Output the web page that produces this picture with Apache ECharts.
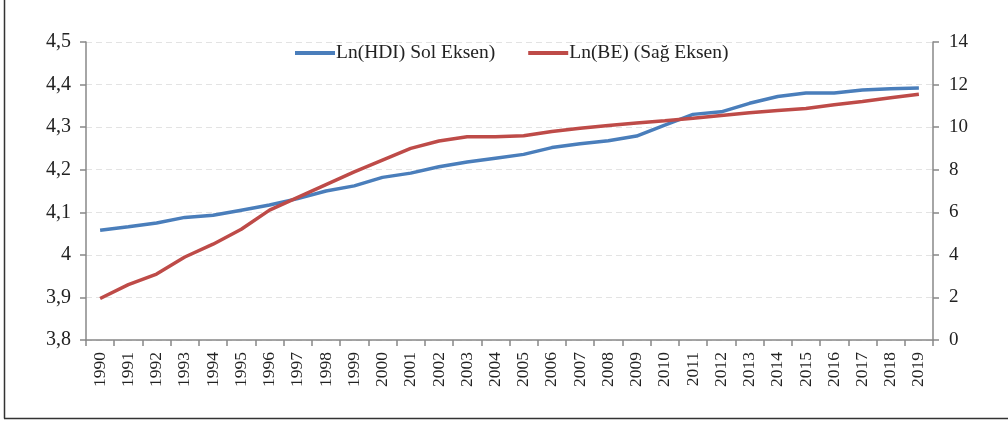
<!DOCTYPE html>
<html>
<head>
<meta charset="utf-8">
<script src="https://cdn.jsdelivr.net/npm/echarts@6/dist/echarts.min.js"></script>
<style>html,body{margin:0;padding:0;background:#fff;}#c{width:1008px;height:422px;}</style>
</head>
<body>
<div id="c"></div>
<script>
const years = ['1990','1991','1992','1993','1994','1995','1996','1997','1998','1999','2000','2001','2002','2003','2004','2005','2006','2007','2008','2009','2010','2011','2012','2013','2014','2015','2016','2017','2018','2019'];
const lnHDI = [4.058,4.066,4.075,4.088,4.093,4.105,4.117,4.132,4.150,4.162,4.182,4.192,4.207,4.218,4.227,4.236,4.252,4.261,4.268,4.279,4.305,4.330,4.336,4.356,4.372,4.380,4.380,4.387,4.390,4.392];
const lnBE = [1.95,2.6,3.1,3.9,4.5,5.2,6.1,6.7,7.3,7.9,8.45,9.0,9.35,9.55,9.55,9.6,9.8,9.95,10.08,10.2,10.3,10.42,10.55,10.68,10.78,10.88,11.05,11.2,11.38,11.55];
const seriesNames = ['Ln(HDI) Sol Eksen)', 'Ln(BE) (Sağ Eksen)'];

const font = '"Liberation Serif", "Times New Roman", serif';
const chart = echarts.init(document.getElementById('c'), null, {renderer:'canvas'});
chart.setOption({
  animation: false,
  backgroundColor: '#fff',
  textStyle: {fontFamily: font},
  graphic: [
    {type:'line', shape:{x1:4.5,y1:0,x2:4.5,y2:418.5}, style:{stroke:'#333',lineWidth:1.5}},
    {type:'line', shape:{x1:4,y1:418.5,x2:1008,y2:418.5}, style:{stroke:'#333',lineWidth:1.5}}
  ],
  legend: {
    top: 38, left: 290,
    itemWidth: 40, itemHeight: 4, itemGap: 33,
    icon: 'rect',
    textStyle: {fontFamily: font, fontSize: 19.5, color: '#222', padding:[0,0,0,-4]},
    data: seriesNames
  },
  grid: {left: 86, right: 75, top: 42, bottom: 82},
  xAxis: {
    type: 'category', data: years, boundaryGap: true,
    axisLine: {lineStyle: {color: '#888', width: 1.5}},
    axisTick: {show: true, length: 6, lineStyle: {color: '#888', width: 1.5}},
    axisLabel: {rotate: 90, fontFamily: font, fontSize: 17.5, color: '#222', margin: 12, interval: 0}
  },
  yAxis: [
    {
      type: 'value', min: 3.8, max: 4.5, interval: 0.1, position: 'left',
      axisLine: {show: true, lineStyle: {color: '#888', width: 1.5}},
      axisTick: {show: true, length: 6, lineStyle: {color: '#888', width: 1.5}},
      axisLabel: {fontFamily: font, fontSize: 20, color: '#222', margin: 15,
        formatter: v => String(Math.round(v*10)/10).replace('.', ',')},
      splitLine: {show: true, lineStyle: {color: '#e3e3e3', type: [6,4], width: 1}}
    },
    {
      type: 'value', min: 0, max: 14, interval: 2, position: 'right',
      axisLine: {show: true, lineStyle: {color: '#888', width: 1.5}},
      axisTick: {show: true, length: 6, lineStyle: {color: '#888', width: 1.5}},
      axisLabel: {fontFamily: font, fontSize: 19, color: '#222', margin: 16},
      splitLine: {show: false}
    }
  ],
  series: [
    {name: seriesNames[0], type: 'line', yAxisIndex: 0, data: lnHDI, symbol: 'none',
      lineStyle: {color: '#4a7ebb', width: 3.5}, itemStyle: {color: '#4a7ebb'}},
    {name: seriesNames[1], type: 'line', yAxisIndex: 1, data: lnBE, symbol: 'none',
      lineStyle: {color: '#be4b48', width: 3.5}, itemStyle: {color: '#be4b48'}}
  ]
});
</script>
</body>
</html>
